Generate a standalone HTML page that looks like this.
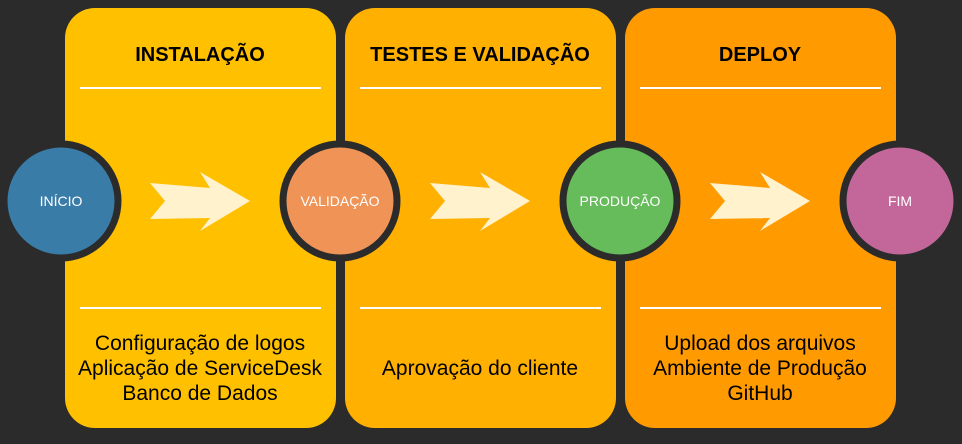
<!DOCTYPE html>
<html><head><meta charset="utf-8"><style>
body{margin:0;background:#2b2b2b;width:962px;height:439px;overflow:hidden;font-family:"Liberation Sans",Arial,sans-serif}
</style></head><body>
<svg width="962" height="439" xmlns="http://www.w3.org/2000/svg" style="font-family:'Liberation Sans',Arial,sans-serif">
<rect width="962" height="439" fill="#2b2b2b"/>
<rect x="65" y="8" width="271" height="420" rx="30" fill="#FFC000"/>
<rect x="345" y="8" width="271" height="420" rx="30" fill="#FFB000"/>
<rect x="625" y="8" width="271" height="420" rx="30" fill="#FF9A00"/>
<g font-weight="bold" font-size="20" text-anchor="middle" fill="#000">
<text x="200" y="61">INSTALAÇÃO</text>
<text x="480" y="61">TESTES E VALIDAÇÃO</text>
<text x="760" y="61">DEPLOY</text>
</g>
<g stroke="#fff" stroke-width="2">
<line x1="80" y1="88" x2="321" y2="88"/><line x1="360" y1="88" x2="601" y2="88"/><line x1="640" y1="88" x2="881" y2="88"/>
<line x1="80" y1="308" x2="321" y2="308"/><line x1="360" y1="308" x2="601" y2="308"/><line x1="640" y1="308" x2="881" y2="308"/>
</g>
<g fill="#FFF2CC">
<polygon points="150,183 210,188 200,172 250,201 200,231 210,218 150,219 165,201"/>
<polygon points="430,183 490,188 480,172 530,201 480,231 490,218 430,219 445,201"/>
<polygon points="710,183 770,188 760,172 810,201 760,231 770,218 710,219 725,201"/>
</g>
<g stroke="#2b2b2b" stroke-width="7">
<circle cx="61" cy="201" r="57" fill="#3A7CA8"/>
<circle cx="340" cy="201" r="57" fill="#EF9456"/>
<circle cx="620" cy="201" r="57" fill="#66BB5A"/>
<circle cx="900" cy="201" r="57" fill="#C3679A"/>
</g>
<g fill="#fff" font-size="14" text-anchor="middle">
<text x="61" y="206">INÍCIO</text>
<text x="340" y="206">VALIDAÇÃO</text>
<text x="620" y="206">PRODUÇÃO</text>
<text x="900" y="206">FIM</text>
</g>
<g font-size="21" text-anchor="middle" fill="#000">
<text x="200" y="350">Configuração de logos</text>
<text x="200" y="375">Aplicação de ServiceDesk</text>
<text x="200" y="400">Banco de Dados</text>
<text x="480" y="375">Aprovação do cliente</text>
<text x="760" y="350">Upload dos arquivos</text>
<text x="760" y="375">Ambiente de Produção</text>
<text x="760" y="400">GitHub</text>
</g>
</svg>
</body></html>
